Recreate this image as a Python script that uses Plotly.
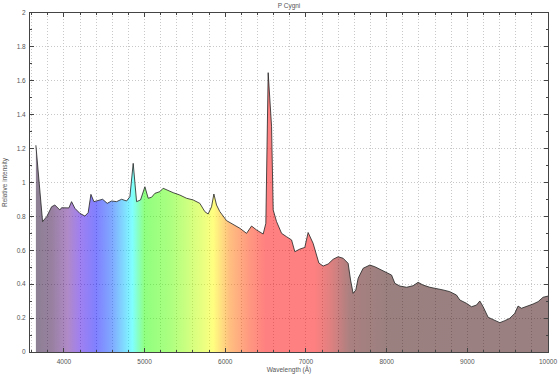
import plotly.graph_objects as go

# Spectrum of P Cygni
wavelength = [3653, 3736, 3789, 3848, 3888, 3919, 3950, 3971, 4033, 4062, 4095, 4136,
              4198, 4260, 4301, 4335, 4372, 4425, 4480, 4537, 4591, 4653, 4715, 4777,
              4818, 4859, 4901, 4950, 5004, 5045, 5087, 5128, 5190, 5230, 5292, 5354,
              5437, 5520, 5602, 5685, 5747, 5788, 5830, 5859, 5892, 5933, 6016, 6098,
              6181, 6264, 6326, 6388, 6470, 6503, 6532, 6574, 6594, 6636, 6698, 6760,
              6822, 6862, 6924, 6986, 7027, 7089, 7130, 7160, 7213, 7275, 7337, 7399,
              7461, 7523, 7553, 7585, 7618, 7647, 7709, 7792, 7854, 7916, 7999, 8061,
              8102, 8164, 8247, 8328, 8390, 8452, 8535, 8618, 8700, 8783, 8866, 8907,
              8990, 9052, 9114, 9155, 9196, 9258, 9320, 9403, 9465, 9526, 9588, 9629,
              9671, 9733, 9815, 9877, 9939, 10000]
intensity = [1.22, 0.769, 0.80, 0.857, 0.867, 0.855, 0.838, 0.851, 0.848, 0.850, 0.887, 0.848,
             0.818, 0.802, 0.822, 0.930, 0.887, 0.893, 0.901, 0.877, 0.891, 0.887, 0.901, 0.891,
             0.916, 1.113, 0.887, 0.897, 0.975, 0.907, 0.913, 0.936, 0.946, 0.966, 0.952, 0.940,
             0.926, 0.907, 0.897, 0.877, 0.828, 0.814, 0.857, 0.932, 0.867, 0.828, 0.775, 0.755,
             0.730, 0.700, 0.743, 0.720, 0.696, 0.759, 1.648, 1.329, 0.838, 0.769, 0.700, 0.680,
             0.661, 0.592, 0.607, 0.617, 0.705, 0.641, 0.580, 0.525, 0.507, 0.519, 0.547, 0.562,
             0.553, 0.523, 0.425, 0.346, 0.366, 0.435, 0.494, 0.513, 0.503, 0.488, 0.468, 0.454,
             0.405, 0.389, 0.382, 0.391, 0.411, 0.395, 0.382, 0.376, 0.366, 0.356, 0.336, 0.307,
             0.287, 0.267, 0.277, 0.301, 0.267, 0.205, 0.193, 0.173, 0.185, 0.199, 0.228, 0.271,
             0.258, 0.267, 0.283, 0.297, 0.323, 0.330]

# Wavelength colour stops for the fill
color_wl = [3600, 3850, 4050, 4200, 4400, 4600, 4850, 5000, 5300, 5700, 5850, 6050,
            6300, 6500, 7100, 7300, 7550, 8000, 10000]
color_rgba = ["rgba(21,1,33,0.5)", "rgba(49,1,65,0.5)", "rgba(97,21,145,0.5)",
              "rgba(65,1,225,0.5)", "rgba(1,1,255,0.5)", "rgba(1,85,255,0.5)",
              "rgba(1,255,255,0.5)", "rgba(33,255,1,0.5)", "rgba(85,255,1,0.5)",
              "rgba(205,255,1,0.5)", "rgba(255,255,1,0.5)", "rgba(255,129,1,0.5)",
              "rgba(255,49,1,0.5)", "rgba(255,1,1,0.5)", "rgba(255,1,1,0.5)",
              "rgba(193,1,1,0.5)", "rgba(85,1,1,0.5)", "rgba(55,1,1,0.5)",
              "rgba(55,1,5,0.5)"]

x_ticks = [4000, 5000, 6000, 7000, 8000, 9000, 10000]
x_tick_labels = ["4000", "5000", "6000", "7000", "8000", "9000", "10000"]

g0, g1 = color_wl[0], color_wl[-1]
colorscale = [[(w - g0) / (g1 - g0), c] for w, c in zip(color_wl, color_rgba)]

fig = go.Figure()
fig.add_trace(go.Scatter(
    x=wavelength, y=intensity, mode="lines", fill="tozeroy",
    line=dict(color="#222222", width=0.8),
    fillgradient=dict(type="horizontal", colorscale=colorscale, start=g0, stop=g1),
    hoverinfo="skip", showlegend=False,
))

font = dict(family="Liberation Sans, Arial, sans-serif", size=6.5, color="#555555")
grid = dict(showgrid=True, gridcolor="#c8c8c8", griddash="1px,2px", gridwidth=1)

fig.update_layout(
    width=560, height=374,
    margin=dict(l=30, r=12, t=13, b=22, autoexpand=False),
    paper_bgcolor="white", plot_bgcolor="white",
    font=font,
    title=dict(text="P Cygni", font=dict(size=6.5, color="#555555"),
               x=0.5, xref="paper", xanchor="center",
               y=1 - 6 / 374, yref="container", yanchor="middle"),
    xaxis=dict(range=[3580, 10000], tickvals=x_ticks, ticktext=x_tick_labels,
               automargin=False,
               ticks="inside", ticklen=4, ticklabelstandoff=3,
               tickcolor="#444", showline=True, linecolor="#444", linewidth=1,
               mirror="ticks", zeroline=False, tickfont=font,
               minor=dict(dtick=200, tick0=0, ticks="inside", ticklen=2, tickcolor="#444",
                          **grid),
               title=dict(text="Wavelength (Å)", font=font, standoff=3),
               **grid),
    yaxis=dict(range=[0, 2], dtick=0.2, ticks="inside", ticklen=4, tickcolor="#444",
               automargin=False,
               showline=True, linecolor="#444", linewidth=1, mirror="ticks",
               zeroline=False, tickfont=font, ticklabelstandoff=2,
               minor=dict(dtick=0.1, ticks="inside", ticklen=2, tickcolor="#444",
                          showgrid=False),
               title=dict(text="Relative intensity", font=font, standoff=8),
               **grid),
)

fig.write_html("out.html")
